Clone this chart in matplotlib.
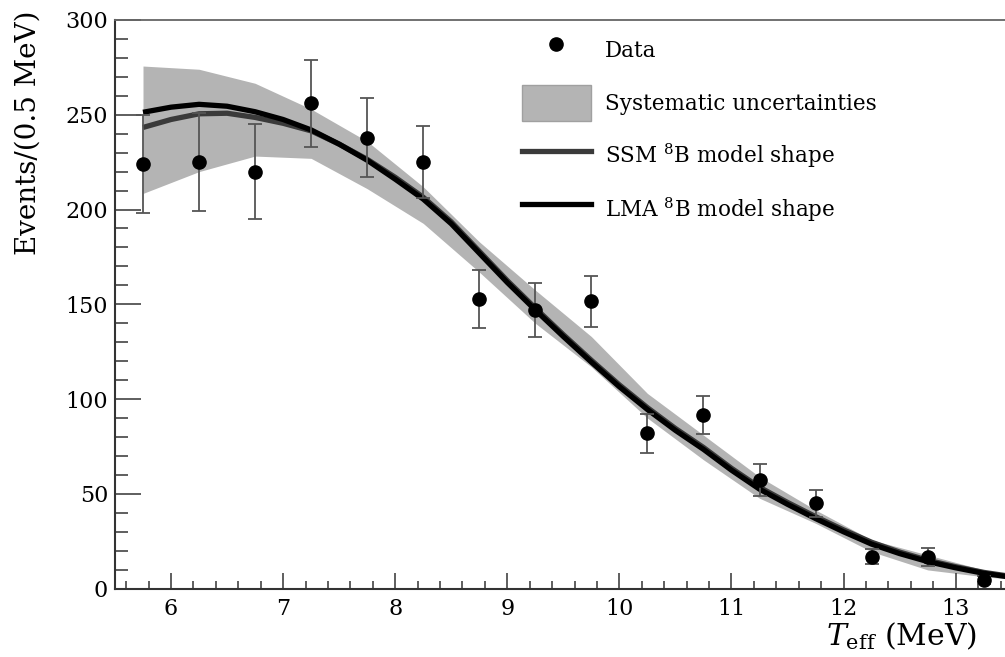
import numpy as np
import matplotlib
matplotlib.use("Agg")
import matplotlib.pyplot as plt
from matplotlib.lines import Line2D
from matplotlib.patches import Patch
from matplotlib.ticker import MultipleLocator

plt.rcParams['font.family'] = ['DejaVu Serif']
plt.rcParams['mathtext.fontset'] = 'dejavuserif'

# data points (bin centres, counts, symmetric errors)
t_bins = [5.75, 6.25, 6.75, 7.25, 7.75, 8.25, 8.75, 9.25, 9.75, 10.25, 10.75, 11.25, 11.75, 12.25, 12.75, 13.25]
counts = [224, 225, 220, 256, 238, 225, 153, 147, 151.5, 82, 91.5, 57.3, 45, 16.9, 16.5, 4.6]
errors = [26, 26, 25, 23, 21, 19, 15.3, 14, 13.4, 10.3, 10.1, 8.3, 7.3, 4, 4.8, 2.3]

# systematic uncertainty band
band_t = [5.75, 6.25, 6.75, 7.25, 7.75, 8.25, 8.75, 9.25, 9.75, 10.25, 10.75, 11.25, 11.75, 12.25, 12.75, 13.25, 13.5]
band_hi = [275.7, 274, 266.6, 253, 236, 212, 183, 157.5, 133, 103, 81, 59, 41.5, 25.7, 17.8, 9.9, 7.5]
band_lo = [208.5, 220, 228.2, 227, 211, 192.7, 167, 140, 117, 90, 68, 47.7, 34.5, 19.5, 9.9, 6.3, 5]

# model shapes
model_t = [5.75, 6.0, 6.25, 6.5, 6.75, 7.0, 7.25, 7.5, 7.75, 8.0, 8.25, 8.5, 8.75, 9.0, 9.25, 9.5,
           9.75, 10.0, 10.25, 10.5, 10.75, 11.0, 11.25, 11.5, 11.75, 12.0, 12.25, 12.5, 12.75, 13.0, 13.25, 13.5]
lma = [251.3, 254, 255.5, 254.5, 251.6, 247.5, 242, 234.5, 226, 216, 205.5, 192.5, 177, 161.5, 147, 133,
       119.5, 106.5, 94.5, 83.5, 73.5, 62.5, 52.5, 44.5, 37, 30, 23.5, 18.5, 14.3, 11, 8.1, 6]
ssm = [243.3, 247.5, 250.5, 250.8, 248.6, 245.5, 241.5, 234.5, 226.5, 217, 206.5, 193.5, 178, 162.5, 148, 134,
       120.5, 107.5, 95.5, 84.5, 74.5, 63.5, 53.5, 45.5, 38, 31, 24.5, 19.3, 15, 11.6, 8.6, 6.4]

band_col = '#b4b4b4'

fig = plt.figure(figsize=(10.05, 6.57), dpi=100)
ax = fig.add_axes([0.1144, 0.104, 0.8856, 0.8656])

ax.fill_between(band_t, band_lo, band_hi, color=band_col, lw=0, zorder=1)
ax.plot(model_t, ssm, color='#3a3a3a', lw=3.8, zorder=2, solid_capstyle='butt')
ax.plot(model_t, lma, color='black', lw=3.8, zorder=2.1, solid_capstyle='butt')
ax.errorbar(t_bins, counts, yerr=errors, fmt='o', color='black', ms=9.5,
            ecolor='#555555', elinewidth=1.3, capsize=5, capthick=1.3, zorder=3)

ax.set_xlim(5.5, 13.44)
ax.set_ylim(0, 300)
ax.xaxis.set_major_locator(MultipleLocator(1))
ax.xaxis.set_minor_locator(MultipleLocator(0.2))
ax.yaxis.set_major_locator(MultipleLocator(50))
ax.yaxis.set_minor_locator(MultipleLocator(10))
ax.tick_params(axis='both', which='both', direction='in', top=False, right=False,
               labelsize=16, width=1.1, color='#333333')
ax.tick_params(axis='y', which='major', length=19, pad=5)
ax.tick_params(axis='y', which='minor', length=9.5)
ax.tick_params(axis='x', which='major', length=11.5, pad=7)
ax.tick_params(axis='x', which='minor', length=5.8)

ax.spines['right'].set_visible(False)
for s in ['left', 'bottom']:
    ax.spines[s].set_linewidth(1.5)
    ax.spines[s].set_color('#333333')
ax.spines['top'].set_linewidth(1.3)
ax.spines['top'].set_color('#666666')

ax.set_ylabel('Events/(0.5 MeV)', fontsize=20, va='center', ha='center')
ax.yaxis.set_label_coords(-0.098, 0.801)
ax.set_xlabel(r'$T_{\mathrm{eff}}$ (MeV)', fontsize=21.5, ha='right', va='top')
ax.xaxis.set_label_coords(0.968, -0.055)

handles = [
    Line2D([], [], marker='o', ls='none', color='black', ms=9.5),
    Patch(facecolor=band_col, edgecolor='#a0a0a0'),
    Line2D([], [], color='#3a3a3a', lw=3.8),
    Line2D([], [], color='black', lw=3.8),
]
labels = ['Data', 'Systematic uncertainties',
          r'SSM $^{8}$B model shape', r'LMA $^{8}$B model shape']
ax.legend(handles, labels, loc='upper left', bbox_to_anchor=(0.457, 0.979),
          frameon=False, fontsize=15.5, handlelength=3.2, handleheight=2.2,
          handletextpad=0.65, labelspacing=0.8, borderpad=0, borderaxespad=0)

fig.savefig('out.png', dpi=100)
